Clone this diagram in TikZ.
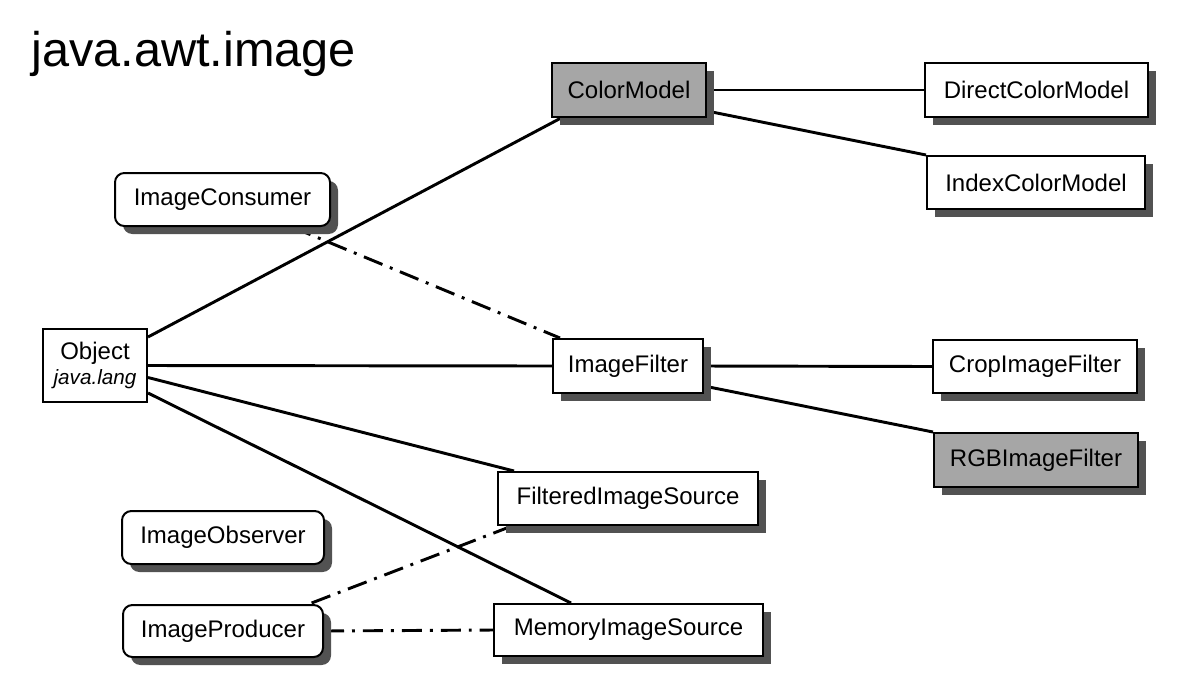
\documentclass[tikz,border=0pt]{standalone}
\usepackage{fontspec}
\setmainfont{Liberation Sans}
\usetikzlibrary{calc,shadows}
\pgfdeclarelayer{background}
\pgfsetlayers{background,main}
\begin{document}
\begin{tikzpicture}[x=0.75pt,y=-0.75pt,
  box/.style={draw=black, line width=1.5pt, fill=white, inner sep=0pt,
    font=\fontsize{18}{20}\selectfont,
    drop shadow={shadow xshift=6pt, shadow yshift=-6pt, fill=black!68, opacity=1}},
  gbox/.style={box, fill=black!35},
  rbox/.style={box, rounded corners=7pt},
  sz/.style n args={2}{minimum width={#1*0.75pt}, minimum height={#2*0.75pt}},
  conn/.style={line width=2.2pt},
  dd/.style={line width=2.2pt, dash pattern=on 15pt off 6pt on 2.2pt off 6pt}]
\useasboundingbox (0,0) rectangle (1192,676);

\node[anchor=base west, inner sep=0pt, font=\fontsize{36.5}{40}\selectfont] (title) at (31,66) {java.awt.image};

\node[gbox, sz={154}{54}] (cm) at (629,90) {ColorModel};
\node[box, sz={223}{54}] (dcm) at (1036.5,90) {DirectColorModel};
\node[box, sz={218}{53}] (icm) at (1036,182.5) {IndexColorModel};
\node[rbox, sz={215}{53}] (ic) at (222.5,199.5) {ImageConsumer};
\node[draw=black, line width=1.5pt, fill=white, inner sep=0pt, sz={104}{73}, align=center,
  font=\fontsize{18}{20}\selectfont] (obj) at (95,365.5)
  {Object\\[-1pt]{\fontsize{15.5}{18}\selectfont\itshape java.lang}};
\node[box, sz={150}{54}] (if) at (628,366) {ImageFilter};
\node[box, sz={204}{53}] (cif) at (1035,366.5) {CropImageFilter};
\node[gbox, sz={204}{54}] (rgb) at (1036,460) {RGBImageFilter};
\node[box, sz={260}{53}] (fis) at (628,498.5) {FilteredImageSource};
\node[rbox, sz={202}{53}] (io) at (223,537.5) {ImageObserver};
\node[rbox, sz={200}{52}] (ip) at (223,631) {ImageProducer};
\node[box, sz={269}{52}] (mis) at (628.5,630) {MemoryImageSource};

\begin{pgfonlayer}{background}
\fill[white] (0,0) rectangle (1192,676);
\draw[conn] ($(obj.north east)+(0,9)$) -- ($(cm.south west)+(10,0)$);
\draw[conn] (cm.east) -- (dcm.west);
\draw[conn] ($(cm.south east)+(0,-7)$) -- (icm.north west);
\draw[conn] (obj.east) -- (if.west);
\draw[conn] (if.east) -- (cif.west);
\draw[conn] ($(if.south east)+(0,-8)$) -- (rgb.north west);
\draw[conn] ($(obj.east)+(0,12)$) -- ($(fis.north west)+(17,0)$);
\draw[conn] ($(obj.south east)+(0,-10)$) -- ($(mis.north west)+(78,0)$);
\draw[dd] ($(ic.south west)+(178,0)$) -- ($(if.north west)+(8,0)$);
\draw[dd] ($(fis.south west)+(15,0)$) -- ($(ip.north east)+(-15,0)$);
\draw[dd] (ip.east) -- (mis.west);
\end{pgfonlayer}
\end{tikzpicture}
\end{document}
